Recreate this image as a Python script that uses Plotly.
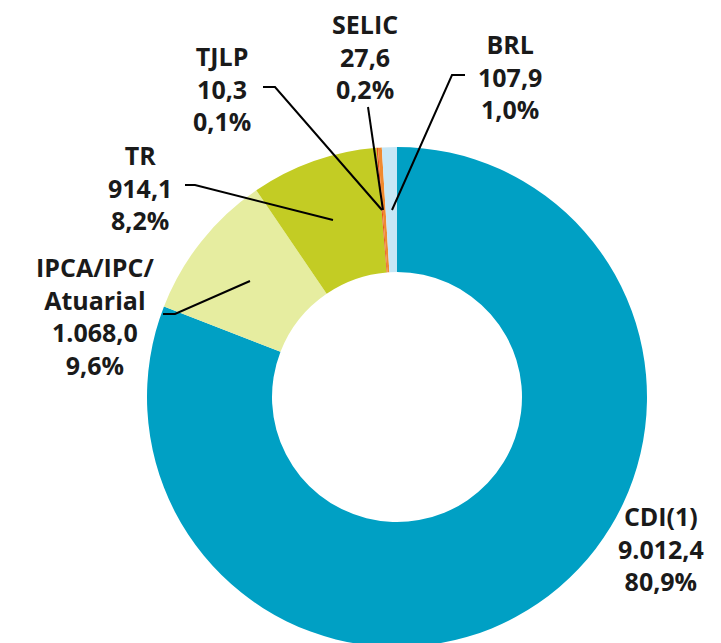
import plotly.graph_objects as go

labels = ["CDI(1)", "IPCA/IPC/<br>Atuarial", "TR", "TJLP", "SELIC", "BRL"]
values = [9012.4, 1068.0, 914.1, 10.3, 27.6, 107.9]
value_text = ["9.012,4", "1.068,0", "914,1", "10,3", "27,6", "107,9"]
pct_text = ["80,9%", "9,6%", "8,2%", "0,1%", "0,2%", "1,0%"]
colors = ["#00a0c4", "#e6eda0", "#c3cc24", "#e8501e", "#f08a30", "#c6e7f6"]

W, H = 721, 643
OFF = 8  # page body margin offset
cx, cy, R = 397 - OFF, 397 - OFF, 250

fig = go.Figure(go.Pie(
    labels=labels, values=values, sort=False, direction="clockwise",
    rotation=0, hole=0.5, textinfo="none", hoverinfo="label+value+percent",
    marker=dict(colors=colors, line=dict(width=0)),
    domain=dict(x=[(cx - R) / W, (cx + R) / W], y=[(H - cy - R) / H, (H - cy + R) / H]),
    showlegend=False,
))

def px(x, y):
    return (x - OFF) / W, 1 - (y - OFF) / H

# label positions (pixels in screenshot, text center)
label_pos = [(661, 548), (95, 316), (140, 187), (222, 88), (365, 56), (510, 76)]
for lab, vt, pt, (x, y) in zip(labels, value_text, pct_text, label_pos):
    ax, ay = px(x, y)
    fig.add_annotation(
        x=ax, y=ay, xref="paper", yref="paper",
        text=f"{lab}<br>{vt}<br>{pt}", showarrow=False, borderpad=0,
        font=dict(family="Open Sans", size=25, color="#1a1a1a", weight="bold"),
        align="center", xanchor="center", yanchor="middle",
    )

# leader lines (pixel polylines in screenshot)
leaders = [
    [(163, 314), (175, 314), (250, 281)],
    [(185, 185), (195, 185), (333, 220)],
    [(263, 87), (275, 87), (382, 210)],
    [(368, 107), (383, 210)],
    [(465, 75), (452, 75), (392, 210)],
]
for pts in leaders:
    path = "M " + " L ".join("{:.5f},{:.5f}".format(*px(a, b)) for a, b in pts)
    fig.add_shape(type="path", path=path, xref="paper", yref="paper",
                  line=dict(color="black", width=2))

fig.update_layout(width=W, height=H, margin=dict(l=0, r=0, t=0, b=0),
                  paper_bgcolor="white", plot_bgcolor="white")
fig.write_html("out.html")
